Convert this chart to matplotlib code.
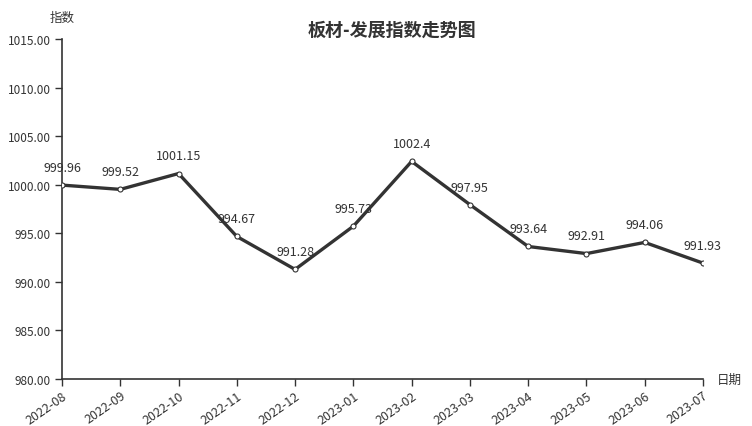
import matplotlib
matplotlib.use("Agg")
import matplotlib.pyplot as plt
from matplotlib.ticker import FormatStrFormatter

plt.rcParams['font.family'] = ['Noto Sans CJK SC', 'DejaVu Sans']

# data
months = ["2022-08", "2022-09", "2022-10", "2022-11", "2022-12", "2023-01",
          "2023-02", "2023-03", "2023-04", "2023-05", "2023-06", "2023-07"]
index_values = [999.96, 999.52, 1001.15, 994.67, 991.28, 995.73,
                1002.4, 997.95, 993.64, 992.91, 994.06, 991.93]
value_labels = ["999.96", "999.52", "1001.15", "994.67", "991.28", "995.73",
                "1002.4", "997.95", "993.64", "992.91", "994.06", "991.93"]

W, H = 752, 427
fig = plt.figure(figsize=(W / 100, H / 100), dpi=100)
ax = fig.add_axes([62 / W, 1 - 380 / H, (703 - 62) / W, (380 - 40) / H])

x = list(range(len(months)))
ax.plot(x, index_values, color="#333333", lw=2.4, zorder=3,
        marker="o", markersize=3.6, markerfacecolor="white",
        markeredgecolor="#333333", markeredgewidth=0.8)

for xi, yi, lab in zip(x, index_values, value_labels):
    ax.annotate(lab, (xi, yi), xytext=(0, 8), textcoords="offset points",
                ha="center", va="bottom", fontsize=9, color="#333333")

ax.set_xlim(0, len(months) - 1)
ax.set_ylim(980, 1015)
ax.set_yticks([980, 985, 990, 995, 1000, 1005, 1010, 1015])
ax.yaxis.set_major_formatter(FormatStrFormatter("%.2f"))
ax.set_xticks(x)
ax.set_xticklabels(months, rotation=35, ha="right", rotation_mode="anchor")

for side in ("top", "right"):
    ax.spines[side].set_visible(False)
for side in ("left", "bottom"):
    ax.spines[side].set_color("#333333")
    ax.spines[side].set_linewidth(1.2)
ax.tick_params(axis="both", direction="out", length=5, width=1,
               color="#333333", labelcolor="#333333", labelsize=8.5)
ax.tick_params(axis="x", labelsize=9, pad=2)
ax.tick_params(axis="y", pad=3)

fig.text(392 / W, 1 - 30 / H, "板材-发展指数走势图", ha="center", va="center",
         fontsize=13, fontweight="bold", color="#333333")
fig.text(62 / W, 1 - 18 / H, "指数", ha="center", va="center",
         fontsize=9, color="#333333")
fig.text(729 / W, 1 - 380 / H, "日期", ha="center", va="center",
         fontsize=9, color="#333333")

fig.savefig("out.png", dpi=100)
